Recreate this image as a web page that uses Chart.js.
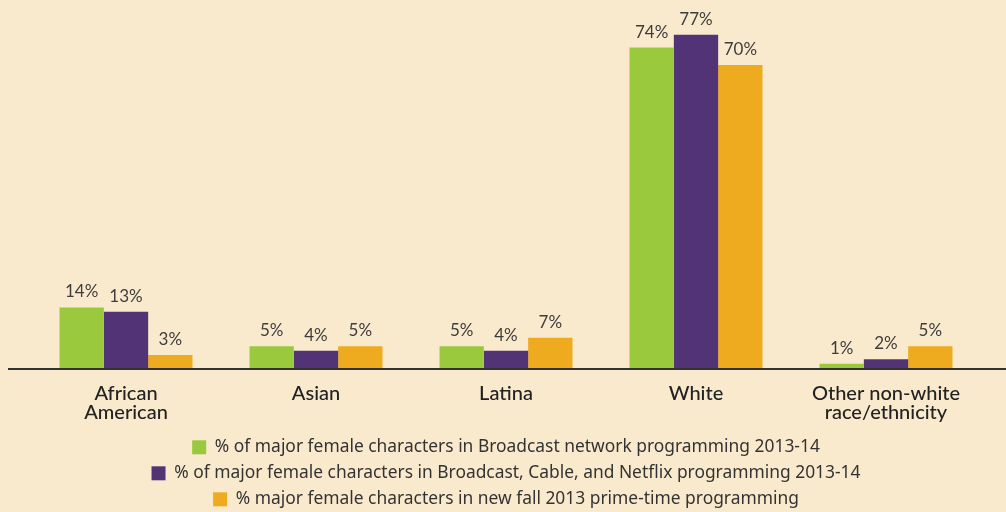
<!DOCTYPE html>
<html>
<head>
<meta charset="utf-8">
<script src="https://cdn.jsdelivr.net/npm/chart.js@4"></script>
<style>
  html, body { margin: 0; padding: 0; background: #FAEACD; }
  #chart { display: block; }
</style>
</head>
<body>
<canvas id="chart" width="1006" height="512"></canvas>
<script>
const categories = [['African', 'American'], 'Asian', 'Latina', 'White', ['Other non-white', 'race/ethnicity']];
const broadcast2013 = [14, 5, 5, 74, 1];
const allPlatforms2013 = [13, 4, 4, 77, 2];
const fallPrimeTime2013 = [3, 5, 7, 70, 5];
const seriesNames = [
  '% of major female characters in Broadcast network programming 2013-14',
  '% of major female characters in Broadcast, Cable, and Netflix programming 2013-14',
  '% major female characters in new fall 2013 prime-time programming'
];

// value labels above each bar
const valueLabels = {
  id: 'valueLabels',
  afterDatasetsDraw(chart) {
    const ctx = chart.ctx;
    ctx.save();
    ctx.font = '17px Lato';
    ctx.fillStyle = '#3d3d3d';
    ctx.textAlign = 'center';
    ctx.textBaseline = 'bottom';
    chart.data.datasets.forEach((ds, i) => {
      chart.getDatasetMeta(i).data.forEach((bar, j) => {
        ctx.fillText(ds.data[j] + '%', bar.x, bar.y - 7);
      });
    });
    ctx.restore();
  }
};

// baseline across the full width
const baseline = {
  id: 'baseline',
  afterDatasetsDraw(chart) {
    const ctx = chart.ctx;
    const y = chart.scales.y.getPixelForValue(0);
    ctx.save();
    ctx.strokeStyle = '#333333';
    ctx.lineWidth = 2;
    ctx.beginPath();
    ctx.moveTo(8, y + 1);
    ctx.lineTo(chart.width, y + 1);
    ctx.stroke();
    ctx.restore();
  }
};

new Chart(document.getElementById('chart').getContext('2d'), {
  type: 'bar',
  data: {
    labels: categories,
    datasets: [
      { label: seriesNames[0], data: broadcast2013, backgroundColor: '#9BC93D' },
      { label: seriesNames[1], data: allPlatforms2013, backgroundColor: '#523476' },
      { label: seriesNames[2], data: fallPrimeTime2013, backgroundColor: '#EEAB1F' }
    ]
  },
  options: {
    responsive: false,
    animation: false,
    layout: { padding: { left: 31, right: 25, top: 0, bottom: -6 } },
    datasets: { bar: { categoryPercentage: 0.7, barPercentage: 1.0 } },
    plugins: {
      tooltip: { enabled: false },
      legend: {
        position: 'bottom',
        labels: {
          font: { family: 'Noto Sans', size: 17.4 },
          color: '#333333',
          boxWidth: 14,
          boxHeight: 14,
          padding: 8.6
        }
      }
    },
    scales: {
      y: { display: false, min: 0, max: 85 },
      x: {
        grid: { display: false },
        border: { display: false },
        afterFit(scale) { scale.height = 62; },
        ticks: {
          font: { family: 'Lato', size: 20, weight: '500', lineHeight: 0.95 },
          color: '#222222',
          padding: 8,
          maxRotation: 0
        }
      }
    }
  },
  plugins: [valueLabels, baseline]
});
</script>
</body>
</html>
